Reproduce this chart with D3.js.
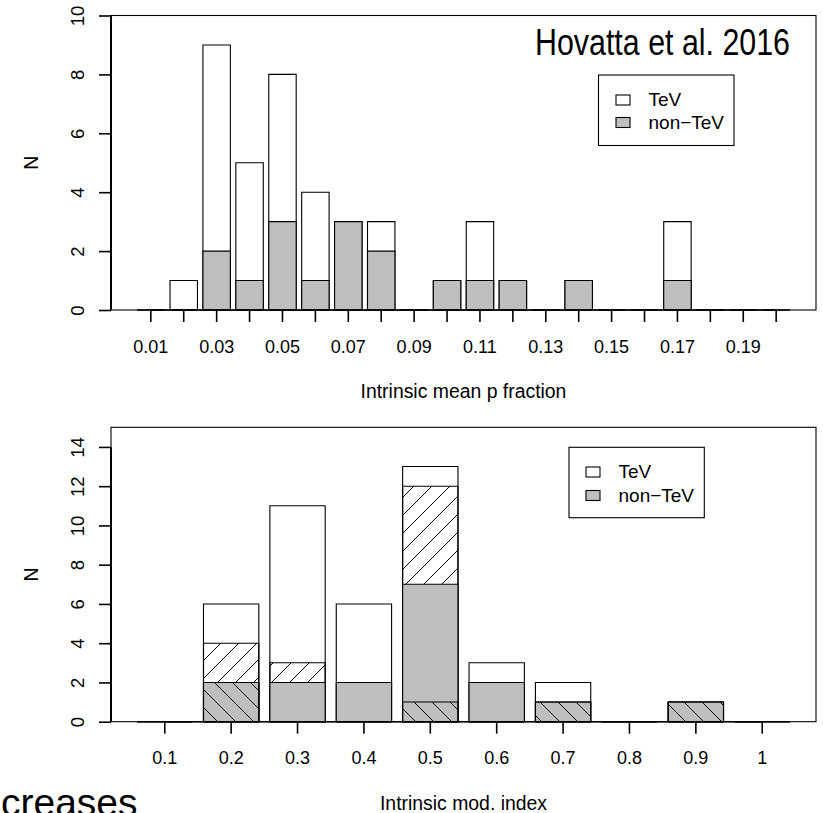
<!DOCTYPE html>
<html><head><meta charset="utf-8">
<script src="https://cdn.jsdelivr.net/npm/d3@7"></script>
<style>
body{margin:0;background:#fff}
svg{display:block}
text{font-family:"Liberation Sans",Arial,Helvetica,sans-serif;fill:#000}
</style>
</head><body>
<svg id="chart" width="823" height="813"></svg>
<script>
// ---------- data ----------
const topCategories = ["0.01","0.02","0.03","0.04","0.05","0.06","0.07","0.08","0.09","0.10",
                       "0.11","0.12","0.13","0.14","0.15","0.16","0.17","0.18","0.19","0.20"];
const topTickLabels = ["0.01","0.03","0.05","0.07","0.09","0.11","0.13","0.15","0.17","0.19"];
const topTotal   = [0,1,9,5,8,4,3,3,0,1,3,1,0,1,0,0,3,0,0,0];
const topNonTeV  = [0,0,2,1,3,1,3,2,0,1,1,1,0,1,0,0,1,0,0,0];
const topYTicks  = [0,2,4,6,8,10];

const bottomCategories = ["0.1","0.2","0.3","0.4","0.5","0.6","0.7","0.8","0.9","1"];
const bottomTickLabels = ["0.1","0.2","0.3","0.4","0.5","0.6","0.7","0.8","0.9","1"];
const bottomTotal     = [0,6,11,6,13,3,2,0,1,0];
const bottomHatchUp   = [0,4,3,0,12,0,0,0,0,0];
const bottomNonTeV    = [0,2,2,2,7,2,1,0,1,0];
const bottomHatchDown = [0,2,0,0,1,0,1,0,1,0];
const bottomYTicks    = [0,2,4,6,8,10,12,14];

const legendLabels = ["TeV","non\u2212TeV"];
const legendFills  = ["#ffffff","#bebebe"];

// ---------- drawing ----------
const svg = d3.select("#chart");
const defs = svg.append("defs");
const S = 18;
defs.append("pattern").attr("id","hUp").attr("patternUnits","userSpaceOnUse")
  .attr("width",S).attr("height",S)
  .append("path").attr("d",`M0,${S}L${S},0M${-S/4},${S/4}L${S/4},${-S/4}M${3*S/4},${5*S/4}L${5*S/4},${3*S/4}`)
  .attr("stroke","#000").attr("stroke-width",1).attr("fill","none");
defs.append("pattern").attr("id","hDown").attr("patternUnits","userSpaceOnUse")
  .attr("width",S).attr("height",S)
  .append("path").attr("d",`M0,0L${S},${S}M${-S/4},${3*S/4}L${S/4},${5*S/4}M${3*S/4},${-S/4}L${5*S/4},${S/4}`)
  .attr("stroke","#000").attr("stroke-width",1).attr("fill","none");

function panel(cfg){
  const {left,right,top,bottom,cats,yMax,yTicks,shown,layers,xTitle,legend} = cfg;
  const n = cats.length;
  const ext = 0.04*(1.2*n-0.2);
  const xu = d3.scaleLinear().domain([0.2-ext, 1.2*n+ext]).range([left,right]);
  const x = d3.scaleBand().domain(cats).range([xu(0.1), xu(1.2*n+0.1)])
              .paddingInner(1/6).paddingOuter(1/12);
  const y = d3.scaleLinear().domain([0,yMax]).range([bottom,top]);
  const g = svg.append("g");

  layers.forEach(L=>{
    g.append("g").selectAll("path").data(L.values).join("path")
      .attr("d",(v,i)=>{
        const x0=x(cats[i]), x1=x0+x.bandwidth(), y0=y(0), y1=y(v);
        return `M${x0},${y0}H${x1}V${y1}H${x0}Z`;
      })
      .attr("fill",L.fill).attr("stroke","#000").attr("stroke-width",1.1);
  });

  // box
  g.append("rect").attr("x",left).attr("y",top).attr("width",right-left).attr("height",bottom-top)
    .attr("fill","none").attr("stroke","#000").attr("stroke-width",1.1);

  // x axis
  const gx = g.append("g").attr("transform",`translate(0,${bottom})`)
    .call(d3.axisBottom(x).tickSize(12).tickSizeOuter(0)
      .tickFormat(d=>shown.includes(d)?d:""));
  gx.select(".domain").remove();
  gx.selectAll(".tick line").attr("stroke","#000").attr("stroke-width",1.6);
  gx.selectAll(".tick text").attr("font-size",18).attr("dy",0).attr("y",42.5);
  const xc0 = x(cats[0])+x.bandwidth()/2, xc1 = x(cats[n-1])+x.bandwidth()/2;
  g.append("line").attr("x1",xc0).attr("x2",xc1).attr("y1",bottom).attr("y2",bottom)
    .attr("stroke","#000").attr("stroke-width",1.6);

  // y axis
  const gy = g.append("g").attr("transform",`translate(${left},0)`)
    .call(d3.axisLeft(y).tickValues(yTicks).tickSize(12).tickSizeOuter(0).tickFormat(d3.format("d")));
  gy.select(".domain").remove();
  gy.selectAll(".tick line").attr("stroke","#000").attr("stroke-width",1.6);
  gy.selectAll(".tick text").attr("font-size",18.5).attr("text-anchor","middle")
    .attr("x",0).attr("y",-27).attr("dy",0).attr("transform","rotate(-90)");
  g.append("line").attr("x1",left).attr("x2",left).attr("y1",y(0)).attr("y2",y(yTicks[yTicks.length-1]))
    .attr("stroke","#000").attr("stroke-width",2);

  // titles
  g.append("text").attr("x",(left+right)/2).attr("y",bottom+88).attr("text-anchor","middle")
    .attr("font-size",19.4).text(xTitle);
  const ny=(top+bottom)/2;
  g.append("text").attr("transform",`translate(38,${ny}) rotate(-90)`).attr("text-anchor","middle")
    .attr("font-size",19.4).text("N");

  // legend
  const lg = g.append("g");
  lg.append("rect").attr("x",legend.x0).attr("y",legend.y0).attr("width",legend.x1-legend.x0)
    .attr("height",legend.y1-legend.y0).attr("fill","#fff").attr("stroke","#000").attr("stroke-width",1.1);
  legendLabels.forEach((lab,i)=>{
    const by = legend.base + i*legend.step;
    lg.append("rect").attr("x",legend.sq).attr("y",by-11).attr("width",14).attr("height",10)
      .attr("fill",legendFills[i]).attr("stroke","#000").attr("stroke-width",1.1);
    lg.append("text").attr("x",legend.tx).attr("y",by).attr("font-size",19).text(lab);
  });
}

panel({left:111,right:816,top:15.5,bottom:310,cats:topCategories,yMax:10,yTicks:topYTicks,
  shown:topTickLabels,
  layers:[{values:topTotal,fill:"#ffffff"},{values:topNonTeV,fill:"#bebebe"}],
  xTitle:"Intrinsic mean p fraction",
  legend:{x0:598.5,y0:75,x1:734,y1:145.5,sq:616,tx:648.5,base:106,step:22.5}});

panel({left:111,right:816,top:427.3,bottom:721.7,cats:bottomCategories,yMax:15,yTicks:bottomYTicks,
  shown:bottomTickLabels,
  layers:[{values:bottomTotal,fill:"#ffffff"},{values:bottomHatchUp,fill:"url(#hUp)"},
          {values:bottomNonTeV,fill:"#bebebe"},{values:bottomHatchDown,fill:"url(#hDown)"}],
  xTitle:"Intrinsic mod. index",
  legend:{x0:569,y0:447.3,x1:704.3,y1:517.7,sq:586,tx:618.5,base:478,step:23.5}});

svg.append("text").attr("x",535).attr("y",54.5).attr("font-size",36)
  .attr("textLength",255).attr("lengthAdjust","spacingAndGlyphs").text("Hovatta et al. 2016");
svg.append("text").attr("x",1).attr("y",816).attr("font-size",39).text("creases");
</script>
</body></html>
